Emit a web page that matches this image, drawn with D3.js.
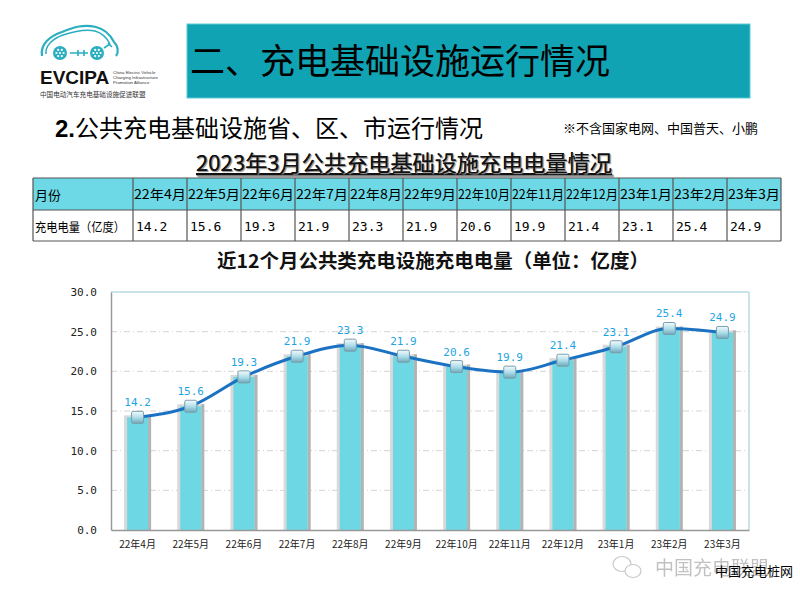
<!DOCTYPE html>
<html><head><meta charset="utf-8">
<script src="https://cdn.jsdelivr.net/npm/d3@7"></script>
<style>body{margin:0;background:#fff}svg{display:block}</style>
</head><body>
<svg id="c" width="800" height="600"></svg>
<script>
const months = ["22年4月","22年5月","22年6月","22年7月","22年8月","22年9月","22年10月","22年11月","22年12月","23年1月","23年2月","23年3月"];
const tableValues = ["14.2","15.6","19.3","21.9","23.3","21.9","20.6","19.9","21.4","23.1","25.4","24.9"];
const values = [14.2,15.6,19.3,21.9,23.3,21.9,20.6,19.9,21.4,23.1,25.4,24.9];
const yTicks = [0,5,10,15,20,25,30];

const svg = d3.select("#c");
const CJK = "'Noto Sans CJK SC','Noto Sans',sans-serif";
const MONO = "'DejaVu Sans Mono','Liberation Mono',monospace";

// defs
const defs = svg.append("defs");
const mg = defs.append("linearGradient").attr("id","mk").attr("x1",0).attr("y1",0).attr("x2",0).attr("y2",1);
mg.append("stop").attr("offset","0%").attr("stop-color","#f4fbfd");
mg.append("stop").attr("offset","55%").attr("stop-color","#a9dbe8");
mg.append("stop").attr("offset","100%").attr("stop-color","#6fa7b8");

// ---------- Logo ----------
const logo = svg.append("g");
const teal = "#2aaec0";
logo.append("path")
  .attr("d","M42,56 C40,44 50,36 62,32 C74,27 84,24 96,27 C104,29 110,34 114,42 C118,46 119,52 116,56")
  .attr("fill","none").attr("stroke",teal).attr("stroke-width",2.2);
logo.append("path")
  .attr("d","M46,54 C45,46 52,39 63,35 C75,31 86,29 95,31 C102,33 107,38 110,44")
  .attr("fill","none").attr("stroke",teal).attr("stroke-width",1.5);
[[60,53],[97,53]].forEach(([cx,cy])=>{
  logo.append("circle").attr("cx",cx).attr("cy",cy).attr("r",7).attr("fill",teal);
  for(let i=0;i<6;i++){const a=i*Math.PI/3;
    logo.append("circle").attr("cx",cx+3.6*Math.cos(a)).attr("cy",cy+3.6*Math.sin(a)).attr("r",1.1).attr("fill","#fff");}
  logo.append("circle").attr("cx",cx).attr("cy",cy).attr("r",1.1).attr("fill","#fff");
});
logo.append("path").attr("d","M70,53 L88,53 M78,50 L78,56 M84,50 L84,56").attr("stroke",teal).attr("stroke-width",1.6);
logo.append("path").attr("d","M104,48 L110,44 M108,43 L112,47").attr("stroke",teal).attr("stroke-width",1.6);
logo.append("text").attr("x",40).attr("y",84).attr("font-family","'Liberation Sans',Arial,sans-serif")
  .attr("font-weight","bold").attr("font-size",19).attr("fill","#111").text("EVCIPA");
["China Electric Vehicle","Charging Infrastructure","Promotion Alliance"].forEach((t,i)=>{
  logo.append("text").attr("x",113).attr("y",74+i*4.8).attr("font-family","'Liberation Sans',Arial,sans-serif")
   .attr("font-size",4.4).attr("fill","#333").text(t);
});
logo.append("text").attr("x",40).attr("y",97).attr("font-family",CJK).attr("font-size",6.6).attr("fill","#333")
  .text("中国电动汽车充电基础设施促进联盟");

// ---------- Header ----------
svg.append("rect").attr("x",187).attr("y",24).attr("width",563).attr("height",74).attr("fill","#10a3b3")
  .attr("stroke","#5ccbd6").attr("stroke-width",1);
svg.append("text").attr("x",190).attr("y",74).attr("font-family",CJK).attr("font-size",35).attr("fill","#000")
  .text("二、充电基础设施运行情况");

// subtitle
const sub = svg.append("text").attr("x",55).attr("y",137).attr("font-family",CJK).attr("font-size",24).attr("fill","#000");
sub.append("tspan").attr("font-weight","bold").attr("font-family","'Liberation Sans',Arial,sans-serif").text("2.");
sub.append("tspan").text("公共充电基础设施省、区、市运行情况");
svg.append("text").attr("x",563).attr("y",133).attr("font-family",CJK).attr("font-size",13).attr("fill","#000")
  .text("※不含国家电网、中国普天、小鹏");

// table title
svg.append("text").attr("x",404).attr("y",171).attr("text-anchor","middle").attr("font-family",CJK)
  .attr("font-size",22).attr("fill","#111").attr("text-decoration","underline")
  .attr("textLength",416).attr("lengthAdjust","spacingAndGlyphs")
  .style("text-shadow","1px 1px 1px #999")
  .text("2023年3月公共充电基础设施充电电量情况");

// ---------- Table ----------
const colX = d3.scaleBand().domain(months).range([133,781]).padding(0);
const tbl = svg.append("g");
tbl.append("rect").attr("x",33).attr("y",178).attr("width",748).attr("height",32).attr("fill","#6dd9e6");
tbl.append("rect").attr("x",33).attr("y",210).attr("width",748).attr("height",31).attr("fill","#fff");
const lines = [33,...months.map(m=>colX(m)),781];
lines.forEach(x=>tbl.append("line").attr("x1",x).attr("x2",x).attr("y1",178).attr("y2",241)
  .attr("stroke","#555").attr("stroke-width",1.2));
[178,210,241].forEach(y=>tbl.append("line").attr("x1",33).attr("x2",781).attr("y1",y).attr("y2",y)
  .attr("stroke","#555").attr("stroke-width",1.2));
tbl.append("text").attr("x",35).attr("y",200).attr("font-family",CJK).attr("font-size",13).text("月份");
tbl.append("text").attr("x",35).attr("y",232).attr("font-family",CJK).attr("font-size",12.5)
  .attr("textLength",90).attr("lengthAdjust","spacingAndGlyphs").text("充电电量（亿度）");
months.forEach((m,i)=>{
  tbl.append("text").attr("x",colX(m)+1).attr("y",199).attr("font-family",CJK).attr("font-size",13)
    .attr("textLength", m.length>4?52:45).attr("lengthAdjust","spacingAndGlyphs").text(m);
  tbl.append("text").attr("x",colX(m)+3).attr("y",231).attr("font-family",MONO).attr("font-size",13)
    .text(tableValues[i]);
});

// chart title
svg.append("text").attr("x",433).attr("y",268).attr("text-anchor","middle").attr("font-family",CJK)
  .attr("font-size",19).attr("font-weight","bold").attr("fill","#111")
  .attr("textLength",432).attr("lengthAdjust","spacingAndGlyphs")
  .text("近12个月公共类充电设施充电电量（单位：亿度）");

// ---------- Chart ----------
const L=111, R=749, T=292, B=530;
const x = d3.scaleBand().domain(months).range([L,R]).padding(0);
const y = d3.scaleLinear().domain([0,30]).range([B,T]);

const g = svg.append("g");
// grid
g.selectAll(".grid").data(yTicks.filter(v=>v>0&&v<30)).join("line")
  .attr("x1",L).attr("x2",R).attr("y1",d=>y(d)).attr("y2",d=>y(d))
  .attr("stroke","#d4d4d4").attr("stroke-dasharray","6,3,1,3").attr("stroke-width",1);
// top and right border
g.append("line").attr("x1",L).attr("x2",R).attr("y1",T).attr("y2",T).attr("stroke","#b9dbe6").attr("stroke-width",1.5);
g.append("line").attr("x1",R).attr("x2",R).attr("y1",T).attr("y2",B).attr("stroke","#b9dbe6").attr("stroke-width",1.5);

// bars
const bw = 21;
const bars = g.selectAll(".bar").data(values).join("g");
bars.append("rect").attr("x",(d,i)=>x(months[i])+x.bandwidth()/2-bw/2-3).attr("width",bw+6)
  .attr("y",d=>y(d)-2).attr("height",d=>B-y(d)+2).attr("fill","#d9d9d9");
bars.append("rect").attr("x",(d,i)=>x(months[i])+x.bandwidth()/2+bw/2).attr("width",3)
  .attr("y",d=>y(d)-2).attr("height",d=>B-y(d)+2).attr("fill","#b3b3b3");
bars.append("rect").attr("x",(d,i)=>x(months[i])+x.bandwidth()/2-bw/2).attr("width",bw)
  .attr("y",d=>y(d)).attr("height",d=>B-y(d)).attr("fill","#6dd8e4");

// axes
const yAxis = d3.axisLeft(y).tickValues(yTicks).tickSize(0).tickPadding(14).tickFormat(d3.format(".1f"));
const ya = svg.append("g").attr("transform",`translate(${L},0)`).call(yAxis);
ya.select(".domain").attr("stroke","#999").attr("stroke-width",1.5);
ya.selectAll("text").attr("font-family",MONO).attr("font-size",11).attr("fill","#222");
const xAxis = d3.axisBottom(x).tickSize(0).tickPadding(10);
const xa = svg.append("g").attr("transform",`translate(0,${B})`).call(xAxis);
xa.select(".domain").attr("stroke","#999").attr("stroke-width",1.5);
xa.selectAll("text").attr("font-family",CJK).attr("font-size",10).attr("fill","#222").attr("dy","0.8em");

// line
const pts = values.map((v,i)=>[x(months[i])+x.bandwidth()/2, y(v)]);
svg.append("path").attr("d",d3.line().curve(d3.curveMonotoneX)(pts))
  .attr("fill","none").attr("stroke","#1b72c2").attr("stroke-width",3);
// markers
svg.selectAll(".mk").data(pts).join("rect")
  .attr("x",d=>d[0]-6).attr("y",d=>d[1]-6).attr("width",12).attr("height",12).attr("rx",1.5)
  .attr("fill","url(#mk)").attr("stroke","#7a9eab").attr("stroke-width",1);
// labels
svg.selectAll(".lb").data(values).join("text")
  .attr("x",(d,i)=>pts[i][0]).attr("y",d=>y(d)-11).attr("text-anchor","middle")
  .attr("font-family",MONO).attr("font-size",11).attr("fill","#1ea4e4").text(d=>d.toFixed(1));

// watermark
const wm = svg.append("g").attr("opacity",0.45);
wm.append("ellipse").attr("cx",622).attr("cy",564).attr("rx",9).attr("ry",7.5).attr("fill","none").attr("stroke","#888").attr("stroke-width",1.2);
wm.append("ellipse").attr("cx",633).attr("cy",571).attr("rx",8).attr("ry",6.5).attr("fill","#fff").attr("stroke","#888").attr("stroke-width",1.2);
wm.append("text").attr("x",655).attr("y",575).attr("font-family",CJK).attr("font-size",19).attr("fill","#777").text("中国充电联盟");
svg.append("text").attr("x",715).attr("y",576).attr("font-family",CJK).attr("font-size",13).attr("fill","#000").text("中国充电桩网");
</script>
</body></html>
